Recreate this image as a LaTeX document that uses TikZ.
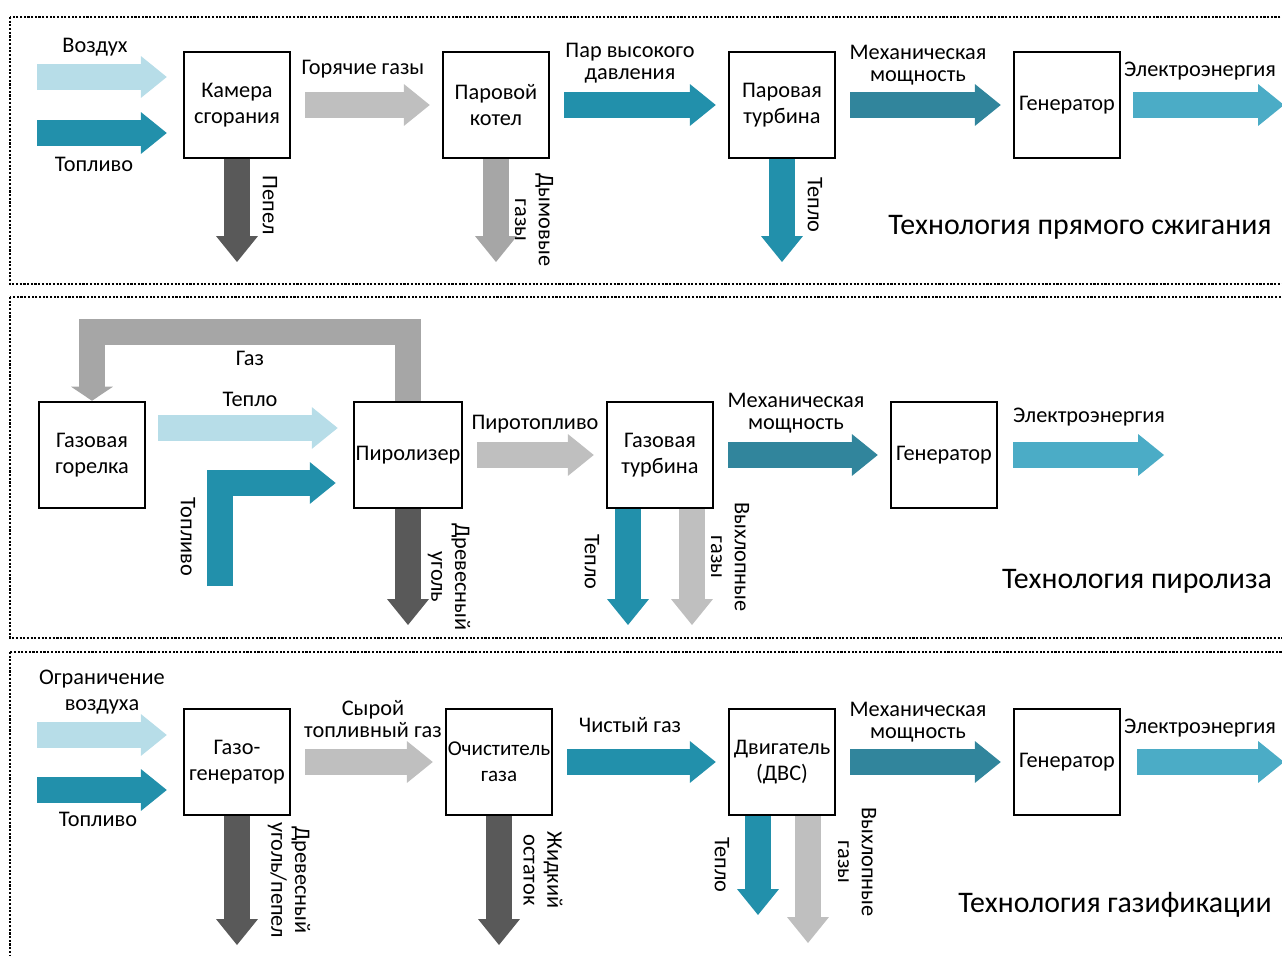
\documentclass[tikz,border=0pt]{standalone}
\usepackage{fontspec}
\setmainfont{Carlito}
\usetikzlibrary{arrows.meta,backgrounds}

\definecolor{airblue}{HTML}{B7DDE8}
\definecolor{fuelteal}{HTML}{2290AB}
\definecolor{mechteal}{HTML}{31859C}
\definecolor{elecblue}{HTML}{4BACC6}
\definecolor{gaslight}{HTML}{BFBFBF}
\definecolor{gasmid}{HTML}{A6A6A6}
\definecolor{ashdark}{HTML}{595959}

\begin{document}
\begin{tikzpicture}[x=0.02cm,y=-0.02cm,
  font=\fontsize{12.7}{15}\selectfont,
  stage/.style={draw,line width=1.4pt,fill=white,align=center,inner sep=1pt,
    minimum width=2.12cm,minimum height=2.12cm},
  lbl/.style={align=center,font=\fontsize{12.7}{12.5}\selectfont},
  vlbl/.style={lbl,rotate=-90,font=\fontsize{12.7}{13.5}\selectfont},
  techtitle/.style={font=\fontsize{17}{17}\selectfont},
  panel/.style={line width=0.8pt,dash pattern=on 1.2pt off 0.9pt},
  flow/.style={draw=#1,line width=14.7pt,
    -{Triangle[length=14.7pt,width=23.8pt,line width=0pt]}},
  pipe/.style={flow=#1,shorten <=0.28cm,shorten >=0.24cm}]
\useasboundingbox (0,0) rectangle (1282,956);

% panels
\draw[panel] (10,17) rectangle (1295,284);
\draw[panel] (10,297) rectangle (1295,638);
\draw[panel] (10,652) rectangle (1295,975);

% direct combustion
\node[stage] (cam) at (237,105) {Камера\\сгорания};
\node[stage] (boil) at (496,105) {Паровой\\котел};
\node[stage] (sturb) at (782,105) {Паровая\\турбина};
\node[stage] (gen1) at (1067,105) {Генератор};
\coordinate (air1) at (37,77);
\coordinate (fuel1) at (37,133);
\coordinate (ash1) at (237,262);
\coordinate (smoke1) at (496,262);
\coordinate (heat1) at (782,262);
\coordinate (elec1) at (1284,105);

\begin{scope}[on background layer]
\draw[flow=airblue,shorten >=0.32cm] (air1) -- (air1 -| cam.west);
\draw[flow=fuelteal,shorten >=0.32cm] (fuel1) -- (fuel1 -| cam.west);
\draw[flow=ashdark] (cam.south) -- (ash1);
\draw[pipe=gaslight] (cam.east) -- (boil.west);
\draw[flow=gasmid] (boil.south) -- (smoke1);
\draw[pipe=fuelteal] (boil.east) -- (sturb.west);
\draw[flow=fuelteal] (sturb.south) -- (heat1);
\draw[pipe=mechteal] (sturb.east) -- (gen1.west);
\draw[flow=elecblue,shorten <=0.24cm] (gen1.east) -- (elec1);
\end{scope}

\node[lbl] (airtxt1) at (95,47) {Воздух};
\node[lbl] (fueltxt1) at (94,164) {Топливо};
\node[lbl] (hottxt) at (363,69) {Горячие газы};
\node[lbl] (steamtxt) at (630,63) {Пар высокого\\давления};
\node[lbl] (mechtxt1) at (918,65) {Механическая\\мощность};
\node[lbl] (electxt1) at (1200,71) {Электроэнергия};
\node[vlbl] (ashtxt1) at (270,205) {Пепел};
\node[vlbl] (smoketxt) at (534,220) {Дымовые\\газы};
\node[vlbl] (heattxt1) at (815,205) {Тепло};
\node[techtitle] (tech1) at (1080,227) {Технология прямого сжигания};

% pyrolysis
\node[stage] (burn) at (92,455) {Газовая\\горелка};
\node[stage] (pyr) at (408,455) {Пиролизер};
\node[stage] (gturb) at (660,455) {Газовая\\турбина};
\node[stage] (gen2) at (944,455) {Генератор};
\coordinate (gasrow) at (250,332);
\coordinate (heatrow) at (0,428);
\coordinate (fuel2) at (220,586);
\coordinate (fuelrow) at (0,483);
\coordinate (char2) at (408,625);
\coordinate (heat2) at (628,625);
\coordinate (exh2) at (692,625);
\coordinate (elec2) at (1164,455);

\begin{scope}[on background layer]
\draw[flow=gasmid,-{Triangle[length=8pt,width=23.8pt,line width=0pt]}]
  (pyr.north) |- (gasrow) -| (burn.north);
\draw[flow=airblue,shorten <=0.24cm,shorten >=0.3cm]
  (burn.east |- heatrow) -- (pyr.west |- heatrow);
\draw[flow=fuelteal,shorten >=0.34cm] (fuel2) |- (pyr.west |- fuelrow);
\draw[flow=ashdark] (pyr.south) -- (char2);
\draw[pipe=gaslight] (pyr.east) -- (gturb.west);
\draw[flow=fuelteal] (gturb.south -| heat2) -- (heat2);
\draw[flow=gaslight] (gturb.south -| exh2) -- (exh2);
\draw[pipe=mechteal] (gturb.east) -- (gen2.west);
\draw[flow=elecblue,shorten <=0.3cm] (gen2.east) -- (elec2);
\end{scope}

\node[lbl] (gastxt) at (250,358) {Газ};
\node[lbl] (heattxt2) at (250,399) {Тепло};
\node[vlbl] (fueltxt2) at (188,537) {Топливо};
\node[vlbl] (chartxt2) at (449,577) {Древесный\\уголь};
\node[lbl] (pyrotxt) at (535,424) {Пиротопливо};
\node[vlbl] (heattxt3) at (592,562) {Тепло};
\node[vlbl] (exhtxt2) at (730,557) {Выхлопные\\газы};
\node[lbl] (mechtxt2) at (796,413) {Механическая\\мощность};
\node[lbl] (electxt2) at (1089,417) {Электроэнергия};
\node[techtitle] (tech2) at (1137,581) {Технология пиролиза};

% gasification
\node[stage] (gasif) at (237,762) {Газо-\\генератор};
\node[stage,inner xsep=0pt,font=\fontsize{12}{15}\selectfont] (clean) at (499,762) {Очиститель\\газа};
\node[stage] (ice) at (782,762) {Двигатель\\(ДВС)};
\node[stage] (gen3) at (1067,762) {Генератор};
\coordinate (air3) at (37,735);
\coordinate (fuel3) at (37,790);
\coordinate (char3) at (237,945);
\coordinate (resid3) at (499,945);
\coordinate (heat3) at (758,915);
\coordinate (exh3) at (808,943);
\coordinate (elec3) at (1284,762);

\begin{scope}[on background layer]
\draw[flow=airblue,shorten >=0.32cm] (air3) -- (air3 -| gasif.west);
\draw[flow=fuelteal,shorten >=0.32cm] (fuel3) -- (fuel3 -| gasif.west);
\draw[flow=ashdark] (gasif.south) -- (char3);
\draw[pipe=gaslight] (gasif.east) -- (clean.west);
\draw[flow=ashdark] (clean.south) -- (resid3);
\draw[pipe=fuelteal] (clean.east) -- (ice.west);
\draw[flow=fuelteal] (ice.south -| heat3) -- (heat3);
\draw[flow=gaslight] (ice.south -| exh3) -- (exh3);
\draw[pipe=mechteal] (ice.east) -- (gen3.west);
\draw[flow=elecblue,shorten <=0.32cm] (gen3.east) -- (elec3);
\end{scope}

\node[lbl,font=\fontsize{12.7}{15}\selectfont] (airtxt3) at (102,692) {Ограничение\\воздуха};
\node[lbl] (fueltxt3) at (98,819) {Топливо};
\node[vlbl] (chartxt3) at (289,880) {Древесный\\уголь/пепел};
\node[lbl] (rawtxt) at (373,719) {Сырой\\топливный газ};
\node[vlbl] (residtxt) at (543,870) {Жидкий\\остаток};
\node[lbl] (cleantxt) at (630,725) {Чистый газ};
\node[vlbl] (heattxt4) at (722,865) {Тепло};
\node[vlbl] (exhtxt3) at (857,862) {Выхлопные\\газы};
\node[lbl] (mechtxt3) at (918,722) {Механическая\\мощность};
\node[lbl] (electxt3) at (1200,728) {Электроэнергия};
\node[techtitle] (tech3) at (1115,905) {Технология газификации};
\end{tikzpicture}
\end{document}
